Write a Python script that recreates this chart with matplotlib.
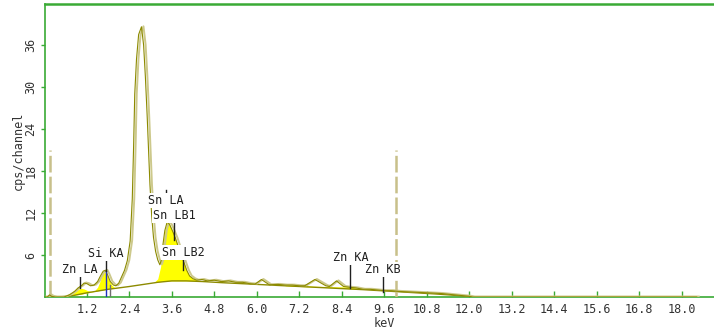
import numpy as np
import matplotlib.pyplot as plt
import matplotlib.transforms as mtransforms

# EDS spectrum, counts per channel vs energy
spec_kev = [0.00, 0.08, 0.14, 0.20, 0.30, 0.55, 0.70, 0.85, 0.95, 1.04, 1.12, 1.20, 1.30,
            1.40, 1.50, 1.58, 1.66, 1.72, 1.78, 1.86, 1.95, 2.02, 2.10, 2.18, 2.26, 2.34,
            2.42, 2.48, 2.52, 2.55, 2.60, 2.66, 2.74, 2.80, 2.85, 2.90, 2.94, 2.98, 3.03,
            3.08, 3.14, 3.20, 3.26, 3.31, 3.35, 3.40, 3.47, 3.54, 3.62, 3.70, 3.78, 3.87, 3.95,
            4.02, 4.10, 4.20, 4.30, 4.45, 4.60, 4.80, 5.00, 5.20, 5.40, 5.60, 5.80, 5.95,
            6.13, 6.35, 6.60, 6.80, 7.00, 7.20, 7.35, 7.64, 7.95, 8.05, 8.25, 8.45, 8.60,
            8.80, 9.00, 9.20, 9.40, 9.60, 9.80, 10.00, 10.40, 10.80, 11.20, 11.60, 12.00,
            12.10, 18.43]
spec_cps = [0.0, 0.0, 0.3, 0.1, 0.0, 0.0, 0.3, 0.8, 1.3, 1.6, 2.0, 1.9, 1.6,
            1.7, 2.2, 3.0, 3.7, 3.8, 3.2, 2.2, 1.7, 1.6, 2.0, 2.9, 3.8, 5.2,
            8.0, 14.0, 22.0, 29.0, 34.0, 37.5, 38.6, 36.0, 31.5, 26.0, 21.0, 16.0, 11.5,
            8.5, 6.5, 5.3, 4.6, 5.4, 7.6, 9.5, 10.8, 10.3, 9.4, 8.4, 7.2, 6.0, 4.8,
            3.8, 3.0, 2.6, 2.4, 2.5, 2.3, 2.4, 2.2, 2.3, 2.1, 2.1, 1.9, 1.85,
            2.5, 1.75, 1.8, 1.7, 1.7, 1.6, 1.6, 2.5, 1.6, 1.5, 2.3, 1.5, 1.4,
            1.3, 1.1, 1.1, 1.0, 0.9, 0.9, 0.8, 0.7, 0.6, 0.5, 0.3, 0.1,
            0.0, 0.0]

# fitted background
bg_kev = [0.05, 0.5, 0.8, 1.0, 1.2, 1.5, 1.8, 2.1, 2.4, 2.8, 3.2, 3.6, 4.0, 4.5,
          5.0, 6.0, 7.0, 8.0, 9.0, 10.0, 11.0, 12.0, 12.1, 18.43]
bg_cps = [0.0, 0.05, 0.2, 0.4, 0.6, 0.85, 1.1, 1.3, 1.5, 1.8, 2.1, 2.3, 2.3, 2.2,
          2.05, 1.8, 1.55, 1.3, 1.05, 0.75, 0.45, 0.1, 0.0, 0.0]

# identified peak fits (top of fit, background under it)
znla_kev = [0.62, 0.75, 0.88, 0.96, 1.04, 1.12, 1.22, 1.32, 1.42]
znla_top = [0.08, 0.3, 0.8, 1.1, 1.25, 1.15, 0.9, 0.8, 0.85]
znla_base = [0.08, 0.15, 0.3, 0.35, 0.4, 0.5, 0.6, 0.7, 0.8]

sika_kev = [1.40, 1.50, 1.58, 1.64, 1.70, 1.76, 1.82, 1.90, 1.98, 2.06]
sika_top = [0.8, 1.4, 2.4, 3.2, 3.6, 3.3, 2.5, 1.7, 1.35, 1.3]
sika_base = [0.8, 0.85, 0.95, 1.0, 1.05, 1.1, 1.15, 1.2, 1.25, 1.3]

sn_kev = [3.10, 3.20, 3.28, 3.35, 3.40, 3.47, 3.54, 3.62, 3.70, 3.78, 3.87, 3.95,
          4.02, 4.10, 4.20, 4.35, 4.50]
sn_top = [2.1, 2.6, 4.3, 7.6, 9.5, 10.8, 10.3, 9.4, 8.4, 7.2, 6.0, 4.8,
          3.8, 3.0, 2.6, 2.35, 2.25]
sn_base = [2.05, 2.15, 2.2, 2.25, 2.25, 2.3, 2.3, 2.3, 2.3, 2.3, 2.3, 2.3,
           2.3, 2.3, 2.3, 2.25, 2.2]

znk_kev = [6.8, 7.2, 7.6, 8.3, 8.6, 8.9]
znk_top = [1.75, 1.7, 1.55, 1.45, 1.45, 1.2]
znk_base = [1.6, 1.5, 1.42, 1.3, 1.2, 1.1]

# line markers: name, energy (keV), peak height (cps)
line_names = ['Zn LA', 'Si KA', 'Sn LA', 'Sn LB1', 'Sn LB2', 'Zn KA', 'Zn KB']
line_kev = [1.012, 1.740, 3.444, 3.662, 3.905, 8.639, 9.572]
line_peak = [1.3, 3.76, 10.8, 8.1, 3.9, 1.3, 0.7]

# region-of-interest limits
roi_kev = [0.16, 9.92]
roi_height = 21

xticks = [1.2 * i for i in range(1, 16)]
yticks = [6, 12, 18, 24, 30, 36]

green = '#3aaa35'
olive = '#8c8a00'
tan = '#cdc98c'
mono = 'DejaVu Sans Mono'

plt.rcParams['lines.scale_dashes'] = False

fig = plt.figure(figsize=(7.14, 3.3), dpi=100)
ax = fig.add_axes([44.5 / 714, 1 - 297 / 330, (714 - 44.5) / 714, 293 / 330])
ax.set_xlim(0, (714 - 44.5) / 35.39)
ax.set_ylim(0, 293 / 7)

# peak fits in yellow
for kev, top, base in [(znla_kev, znla_top, znla_base), (sika_kev, sika_top, sika_base),
                       (sn_kev, sn_top, sn_base), (znk_kev, znk_top, znk_base)]:
    ax.fill_between(kev, base, top, color='#ffff00', lw=0, zorder=2)

# spectrum drawn twice: light trace nudged a couple of pixels right of the dark one
shifted = mtransforms.offset_copy(ax.transData, fig=fig, x=2.0, y=0.5, units='dots')
ax.plot(bg_kev, bg_cps, color=olive, lw=1.0, zorder=3)
ax.plot(spec_kev, spec_cps, color=tan, lw=1.4, zorder=3, transform=shifted)
ax.plot(spec_kev, spec_cps, color=olive, lw=0.8, zorder=4)

# ROI dashed limits
for k in roi_kev:
    ax.plot([k, k], [0, roi_height], color='#c8c08a', lw=1.8, dashes=(12, 3), zorder=3)

# label positions (keV, cps) for the text and top of each marker line
lab_pos = [(0.49, 3.43), (1.22, 5.71), (2.92, 13.3), (3.06, 11.1), (3.31, 5.86),
           (8.15, 5.14), (9.05, 3.43)]
mark_top = [3.1, 5.5, 15.3, 10.9, 5.6, 5.0, 3.2]

for name, k, pk, (tx, ty), mt in zip(line_names, line_kev, line_peak, lab_pos, mark_top):
    if name == 'Si KA':
        ax.plot([k, k], [0, pk], color='#2030c0', lw=1, zorder=5)
    ax.plot([k, k], [pk, mt], color='#202020', lw=1, zorder=5)
    ax.text(tx, ty, name, family=mono, fontsize=8.5, color='#202020', va='baseline',
            bbox=dict(facecolor='white', edgecolor='none', pad=0.6), zorder=6)
ax.plot([1.85, 1.85], [0, 1.7], color='#707070', lw=1, zorder=5)

ax.set_xticks(xticks)
ax.set_xticklabels([f'{t:.1f}' for t in xticks], family=mono, fontsize=8.5, color='#333333')
ax.set_yticks(yticks)
ax.set_yticklabels([str(t) for t in yticks], family=mono, fontsize=8.5, color='#333333',
                   rotation=90, va='center')
ax.tick_params(axis='x', direction='in', length=4, color=green, width=1, pad=4)
ax.tick_params(axis='y', direction='out', length=3, color=green, width=1, pad=2)

for side in ['top', 'left', 'bottom']:
    ax.spines[side].set_color(green)
    ax.spines[side].set_linewidth(1.2)
ax.spines['top'].set_linewidth(1.8)
ax.spines['right'].set_visible(False)

ax.set_xlabel('keV', family=mono, fontsize=8.5, color='#333333')
ax.xaxis.set_label_coords((384.5 - 44.5) / (714 - 44.5), -0.069)
ax.set_ylabel('cps/channel', family=mono, fontsize=8.5, color='#333333')
ax.yaxis.set_label_coords(-0.03, 0.5)

fig.savefig('out.png', dpi=100)
